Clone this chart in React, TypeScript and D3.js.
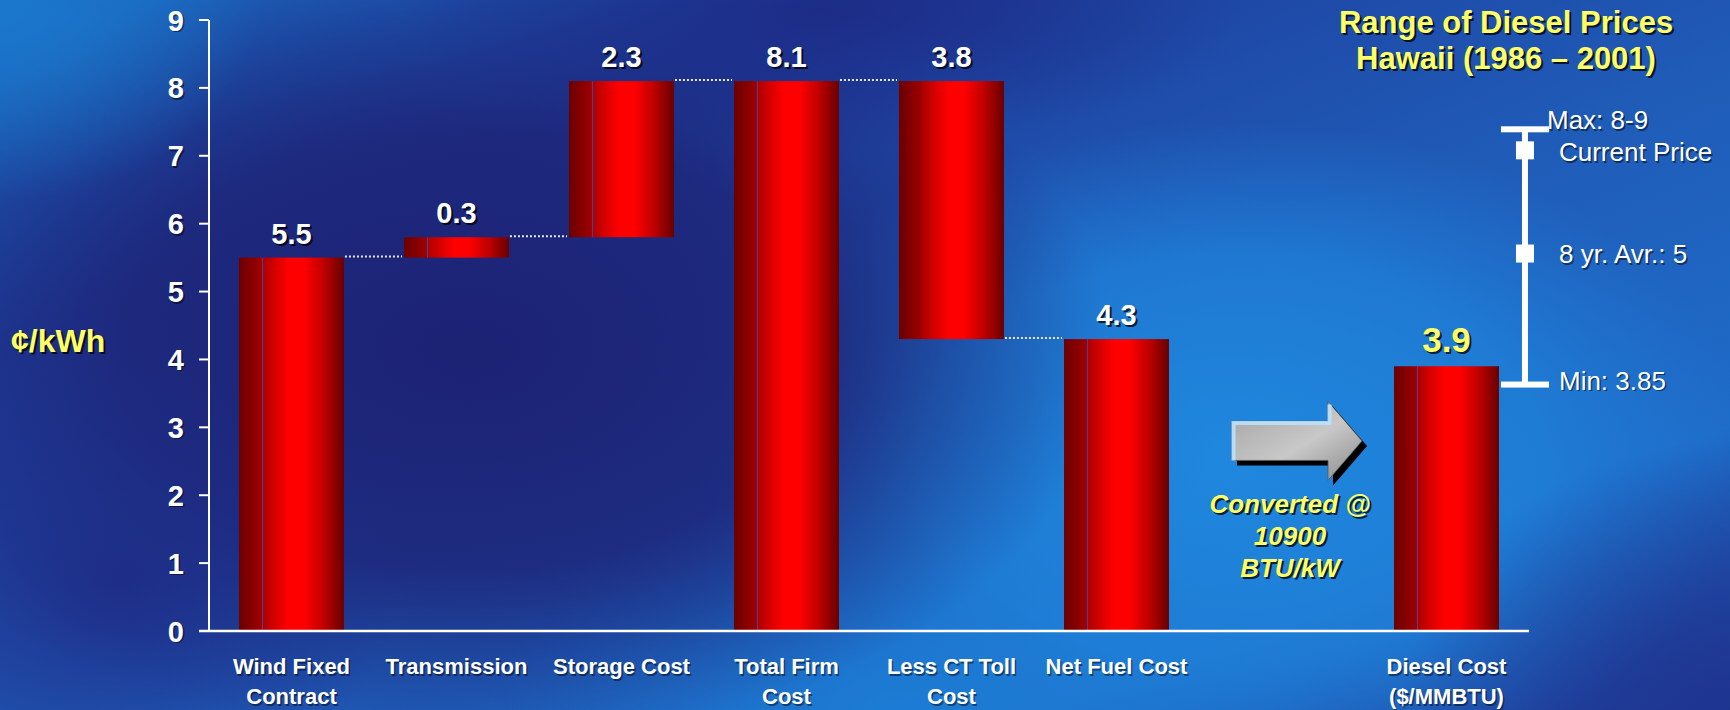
import React from "react";
import * as d3 from "d3";

// ---------- data ----------
const categories = [
  "Wind Fixed\nContract",
  "Transmission",
  "Storage Cost",
  "Total Firm\nCost",
  "Less CT Toll\nCost",
  "Net Fuel Cost",
  "",
  "Diesel Cost\n($/MMBTU)",
];
// step value of each bar (null = empty slot)
const stepValues: (number | null)[] = [5.5, 0.3, 2.3, 8.1, -3.8, 4.3, null, 3.9];
// "step" bars float on the running total, "total" bars start at zero
const barKinds: (string | null)[] = ["step", "step", "step", "total", "step", "total", null, "total"];
const yTicks = [0, 1, 2, 3, 4, 5, 6, 7, 8, 9];

// range of diesel prices annotation (positions, in chart units)
const rangeCapValues = [7.39, 3.63];
const rangeMarkerValues = [7.08, 5.56];
const rangeLabels = ["Max: 8-9", "Current Price", "8 yr. Avr.: 5", "Min: 3.85"];
const titleLines = ["Range of Diesel Prices", "Hawaii (1986 \u2013 2001)"];
const convertedLines = ["Converted @", "10900", "BTU/kW"];
const arrowLevel = 2.8;

// ---------- layout ----------
const W = 1730;
const H = 710;
const FONT = "'Liberation Sans', Arial, Helvetica, sans-serif";
const YELLOW = "#ffff66";

const x = d3
  .scaleBand<number>()
  .domain(d3.range(categories.length))
  .range([209, 1529])
  .paddingInner(0.364)
  .paddingOuter(0.182);
const y = d3.scaleLinear().domain([0, 9]).range([631, 20]);

// compute floating bars
type Bar = { i: number; lo: number; hi: number; label: string; kind: string; level: number };
const bars: Bar[] = [];
{
  let running = 0;
  stepValues.forEach((v, i) => {
    if (v === null) return;
    const kind = barKinds[i] as string;
    if (kind === "total") {
      bars.push({ i, lo: 0, hi: v, label: v.toFixed(1), kind, level: v });
      running = v;
    } else {
      const a = running;
      const b = running + v;
      bars.push({
        i,
        lo: Math.min(a, b),
        hi: Math.max(a, b),
        label: Math.abs(v).toFixed(1),
        kind: v < 0 ? "decrease" : "increase",
        level: b,
      });
      running = b;
    }
  });
}

function STxt(props: any) {
  const { x: tx, y: ty, fill, shadow = "#000", off = 2, shadowOpacity = 0.75, children, ...rest } = props;
  return (
    <g>
      <text x={tx + off} y={ty + off} fill={shadow} opacity={shadowOpacity} {...rest}>
        {children}
      </text>
      <text x={tx} y={ty} fill={fill} {...rest}>
        {children}
      </text>
    </g>
  );
}

export default function App() {
  const bw = x.bandwidth();
  const lastBar = bars[bars.length - 1];

  // arrow geometry (in the empty slot)
  const ax = x(6)!;
  const ac = y(arrowLevel);
  const aL = ax + 3;
  const aH = ax + 99;
  const aT = ax + 133;
  const bodyH = 19.5;
  const headH = 39.5;
  const arrowPts = [
    [aL, ac - bodyH],
    [aH, ac - bodyH],
    [aH, ac - headH],
    [aT, ac],
    [aH, ac + headH],
    [aH, ac + bodyH],
    [aL, ac + bodyH],
  ];
  const ptsStr = (dx: number, dy: number) => arrowPts.map((p) => `${p[0] + dx},${p[1] + dy}`).join(" ");

  // range annotation
  const xr = x(7)! + bw + 26;
  const capTop = y(rangeCapValues[0]);
  const capBot = y(rangeCapValues[1]);

  return (
    <svg
      width={W}
      height={H}
      style={{ position: "absolute", left: 0, top: 0, display: "block" }}
      fontFamily={FONT}
    >
      <defs>
        <linearGradient id="bgBase" x1="0" y1="0" x2="1" y2="1">
          <stop offset="0" stopColor="#1b6cc2" />
          <stop offset="0.25" stopColor="#1e3d9c" />
          <stop offset="0.55" stopColor="#1f5cb8" />
          <stop offset="0.8" stopColor="#1e6cc8" />
          <stop offset="1" stopColor="#1f3a96" />
        </linearGradient>
        <radialGradient id="gDark" gradientUnits="userSpaceOnUse" cx="0" cy="0" r="1"
          gradientTransform="translate(470,350) scale(640,400)">
          <stop offset="0" stopColor="#1c2274" stopOpacity="1" />
          <stop offset="0.55" stopColor="#1d2679" stopOpacity="0.88" />
          <stop offset="1" stopColor="#1d2a80" stopOpacity="0" />
        </radialGradient>
        <radialGradient id="gTopDark" gradientUnits="userSpaceOnUse" cx="0" cy="0" r="1"
          gradientTransform="translate(820,10) scale(420,140)">
          <stop offset="0" stopColor="#1c2a84" stopOpacity="0.9" />
          <stop offset="1" stopColor="#1c2a84" stopOpacity="0" />
        </radialGradient>
        <radialGradient id="gBright" gradientUnits="userSpaceOnUse" cx="0" cy="0" r="1"
          gradientTransform="translate(1230,460) scale(520,340)">
          <stop offset="0" stopColor="#1f88de" stopOpacity="1" />
          <stop offset="0.6" stopColor="#1f82da" stopOpacity="0.75" />
          <stop offset="1" stopColor="#1f7ad4" stopOpacity="0" />
        </radialGradient>
        <radialGradient id="gBottom" gradientUnits="userSpaceOnUse" cx="0" cy="0" r="1"
          gradientTransform="translate(900,710) scale(420,170)">
          <stop offset="0" stopColor="#1c7ed6" stopOpacity="0.9" />
          <stop offset="1" stopColor="#1c7ed6" stopOpacity="0" />
        </radialGradient>
        <radialGradient id="gTL" gradientUnits="userSpaceOnUse" cx="0" cy="0" r="1"
          gradientTransform="translate(0,0) scale(260,200)">
          <stop offset="0" stopColor="#1a78cc" stopOpacity="1" />
          <stop offset="1" stopColor="#1a78cc" stopOpacity="0" />
        </radialGradient>
        <radialGradient id="gBR" gradientUnits="userSpaceOnUse" cx="0" cy="0" r="1"
          gradientTransform="translate(1730,720) scale(330,280)">
          <stop offset="0" stopColor="#1e3590" stopOpacity="1" />
          <stop offset="1" stopColor="#1e3590" stopOpacity="0" />
        </radialGradient>
        <radialGradient id="gBL" gradientUnits="userSpaceOnUse" cx="0" cy="0" r="1"
          gradientTransform="translate(120,580) scale(280,220)">
          <stop offset="0" stopColor="#1e2a84" stopOpacity="0.85" />
          <stop offset="1" stopColor="#1e2a84" stopOpacity="0" />
        </radialGradient>
        <linearGradient id="barGrad" x1="0" y1="0" x2="1" y2="0">
          <stop offset="0" stopColor="#6b0000" />
          <stop offset="0.2" stopColor="#9a0000" />
          <stop offset="0.23" stopColor="#ae0000" />
          <stop offset="0.36" stopColor="#dc0000" />
          <stop offset="0.48" stopColor="#ff0000" />
          <stop offset="0.62" stopColor="#ff0000" />
          <stop offset="0.8" stopColor="#c20000" />
          <stop offset="1" stopColor="#680000" />
        </linearGradient>
        <linearGradient id="arrowGrad" x1="0" y1="0" x2="1" y2="1">
          <stop offset="0" stopColor="#a4a4a4" />
          <stop offset="0.55" stopColor="#c8c8c8" />
          <stop offset="1" stopColor="#8a8a8a" />
        </linearGradient>
      </defs>

      {/* background */}
      <rect x={0} y={0} width={W} height={H} fill="url(#bgBase)" />
      <rect x={0} y={0} width={W} height={H} fill="url(#gBright)" />
      <rect x={0} y={0} width={W} height={H} fill="url(#gBottom)" />
      <rect x={0} y={0} width={W} height={H} fill="url(#gDark)" />
      <rect x={0} y={0} width={W} height={H} fill="url(#gTopDark)" />
      <rect x={0} y={0} width={W} height={H} fill="url(#gBL)" />
      <rect x={0} y={0} width={W} height={H} fill="url(#gTL)" />
      <rect x={0} y={0} width={W} height={H} fill="url(#gBR)" />

      {/* bars */}
      {bars.map((b) => {
        const bx = x(b.i)!;
        const top = y(b.hi);
        const bot = y(b.lo);
        return (
          <g key={b.i}>
            <rect x={bx} y={top} width={bw} height={bot - top} fill="url(#barGrad)" />
            {b.kind !== "decrease" && (
              <rect x={bx + Math.round(bw * 0.22)} y={top} width={1} height={bot - top} fill="#2a50c0" opacity={0.85} />
            )}
          </g>
        );
      })}

      {/* connectors */}
      {bars.slice(0, -1).map((b, k) => {
        const next = bars[k + 1];
        if (next.i !== b.i + 1) return null;
        const yy = y(b.level) - 1;
        return (
          <line
            key={"c" + k}
            x1={x(b.i)! + bw + 1}
            x2={x(next.i)! - 2}
            y1={yy}
            y2={yy}
            stroke="#e6e6f0"
            strokeWidth={2}
            strokeDasharray="2,2"
          />
        );
      })}

      {/* value labels */}
      {bars.map((b) => {
        const isLast = b === lastBar;
        return (
          <STxt
            key={"v" + b.i}
            x={x(b.i)! + bw / 2}
            y={y(b.hi) - 14}
            fill={isLast ? YELLOW : "#ffffff"}
            textAnchor="middle"
            fontWeight="bold"
            fontSize={isLast ? 35 : 29}
          >
            {b.label}
          </STxt>
        );
      })}

      {/* axes */}
      <line x1={209} x2={209} y1={y(9)} y2={y(0)} stroke="#fff" strokeWidth={2} />
      <line x1={199} x2={1529} y1={y(0)} y2={y(0)} stroke="#fff" strokeWidth={2.5} />
      {yTicks.map((t) => (
        <g key={"t" + t}>
          <line x1={199} x2={209} y1={y(t)} y2={y(t)} stroke="#fff" strokeWidth={2} />
          <STxt
            x={184}
            y={y(t) + 10.5}
            fill="#ffffff"
            textAnchor="end"
            fontWeight="bold"
            fontSize={29}
            off={1.5}
            shadowOpacity={0.5}
          >
            {t}
          </STxt>
        </g>
      ))}

      {/* y axis title */}
      <STxt x={11} y={352} fill={YELLOW} fontWeight="bold" fontSize={32}>
        ¢/kWh
      </STxt>

      {/* category labels */}
      {categories.map((c, i) =>
        c.split("\n").map((line, j) => (
          <STxt
            key={"cat" + i + "_" + j}
            x={x(i)! + bw / 2}
            y={674 + j * 30}
            fill="#ffffff"
            textAnchor="middle"
            fontWeight="bold"
            fontSize={22}
            off={1.5}
            shadowOpacity={0.45}
          >
            {line}
          </STxt>
        ))
      )}

      {/* title */}
      {titleLines.map((t, j) => (
        <STxt
          key={"title" + j}
          x={1506}
          y={33 + j * 36}
          fill={YELLOW}
          textAnchor="middle"
          fontWeight="bold"
          fontSize={31}
        >
          {t}
        </STxt>
      ))}

      {/* arrow */}
      <polygon points={ptsStr(5, 5)} fill="#000" />
      <polygon points={ptsStr(0, 0)} fill="url(#arrowGrad)" stroke="#555" strokeWidth={0.8} />
      <polyline
        points={`${aL + 1.5},${ac + bodyH} ${aL + 1.5},${ac - bodyH + 1.5} ${aH + 1.5},${ac - bodyH + 1.5} ${aH + 1.5},${ac - headH + 3}`}
        fill="none"
        stroke="#bfe0f8"
        strokeWidth={4}
        opacity={0.9}
      />

      {/* converted text */}
      {convertedLines.map((t, j) => (
        <STxt
          key={"conv" + j}
          x={ax + 61}
          y={ac + 72 + j * 32}
          fill={YELLOW}
          textAnchor="middle"
          fontWeight="bold"
          fontStyle="italic"
          fontSize={26}
        >
          {t}
        </STxt>
      ))}

      {/* range annotation */}
      <rect x={xr - 3} y={capTop} width={6} height={capBot - capTop} fill="#fff" />
      {[capTop, capBot].map((cy, k) => (
        <rect key={"cap" + k} x={xr - 24} y={cy - 3} width={48} height={6} fill="#fff" />
      ))}
      {rangeMarkerValues.map((v, k) => (
        <rect key={"mk" + k} x={xr - 9} y={y(v) - 9} width={18} height={18} fill="#fff" />
      ))}
      <STxt x={xr + 22} y={capTop} fill="#fff" fontSize={26} off={1.5} shadowOpacity={0.5}>
        {rangeLabels[0]}
      </STxt>
      <STxt x={xr + 34} y={y(rangeMarkerValues[0]) + 11} fill="#fff" fontSize={26} off={1.5} shadowOpacity={0.5}>
        {rangeLabels[1]}
      </STxt>
      <STxt x={xr + 34} y={y(rangeMarkerValues[1]) + 9.5} fill="#fff" fontSize={26} off={1.5} shadowOpacity={0.5}>
        {rangeLabels[2]}
      </STxt>
      <STxt x={xr + 34} y={capBot + 5} fill="#fff" fontSize={26} off={1.5} shadowOpacity={0.5}>
        {rangeLabels[3]}
      </STxt>
    </svg>
  );
}
